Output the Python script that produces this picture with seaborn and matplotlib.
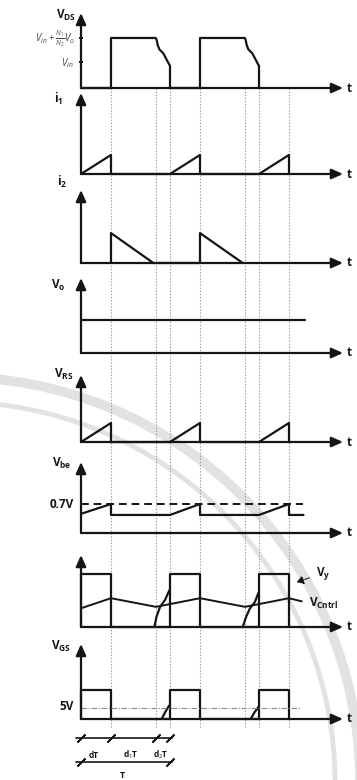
import numpy as np
import pandas as pd
import seaborn as sns
import matplotlib.pyplot as plt
from matplotlib.patches import Circle, FancyArrowPatch

sns.set_theme(style="white")
plt.rcParams['font.family'] = ['Open Sans', 'DejaVu Sans']
plt.rcParams['mathtext.fontset'] = 'custom'
plt.rcParams['mathtext.rm'] = 'Open Sans'
plt.rcParams['mathtext.it'] = 'Open Sans:italic'
plt.rcParams['mathtext.bf'] = 'Open Sans:bold'

# ---- switching intervals (fractions of the period T) ----
D, D1, D2 = 0.337, 0.506, 0.157

# ---- waveforms: time in units of T, amplitude as fraction of the y-axis height ----
vds_t = [0, D, D, 0.84, 0.85, 0.862, 0.88, 0.925, 1.0, 1.0,
         1 + D, 1 + D, 1.84, 1.85, 1.862, 1.88, 1.925, 2.0, 2.0]
vds_v = [0, 0, 0.667, 0.667, 0.64, 0.573, 0.516, 0.462, 0.293, 0,
         0, 0.667, 0.667, 0.64, 0.573, 0.516, 0.462, 0.293, 0]
vds_levels = [0.667, 0.347]

i1_t = [0, D, D, 1, 1 + D, 1 + D, 2, 2 + D, 2 + D]
i1_v = [0, 0.235, 0, 0, 0.235, 0, 0, 0.235, 0]

i2_t = [D, D, 0.813, 1 + D, 1 + D, 1.817]
i2_v = [0, 0.41, 0, 0, 0.41, 0]

vo_t = [0, 2.517]
vo_v = [0.44, 0.44]

vrs_t = [0, D, D, 1, 1 + D, 1 + D, 2, 2 + D, 2 + D]
vrs_v = [0, 0.284, 0, 0, 0.284, 0, 0, 0.284, 0]

vbe_t = [0, D, D, 1, 1 + D, 1 + D, 2, 2 + D, 2 + D, 2.5]
vbe_v = [0.27, 0.408, 0.254, 0.254, 0.408, 0.254, 0.254, 0.408, 0.254, 0.254]
vbe_ref_t = [0, 2.5]
vbe_ref_v = [0.408, 0.408]

vy_t = [0, 0, D, D, 1, 1, 1 + D, 1 + D, 2, 2, 2 + D, 2 + D]
vy_v = [0, 0.74, 0.74, 0, 0, 0.74, 0.74, 0, 0, 0.74, 0.74, 0]
vy_edge1_t = [0.824, 0.848, 0.888, 0.944, 0.993]
vy_edge1_v = [0, 0.14, 0.28, 0.375, 0.51]
vy_edge2_t = [1.817, 1.855, 1.899, 1.955, 1.992]
vy_edge2_v = [0, 0.14, 0.26, 0.35, 0.47]
vcntrl_t = [0, D, 0.843, 1 + D, 1.843, 2 + D, 2.48]
vcntrl_v = [0.26, 0.40, 0.28, 0.40, 0.28, 0.40, 0.356]

vgs_t = [0, 0, D, D, 1, 1, 1 + D, 1 + D, 2, 2, 2 + D, 2 + D]
vgs_v = [0, 0.387, 0.387, 0, 0, 0.387, 0.387, 0, 0, 0.387, 0.387, 0]
vgs_edge1_t = [0.906, 0.95, 0.975, 1.0]
vgs_edge1_v = [0, 0.10, 0.15, 0.19]
vgs_edge2_t = [1.906, 1.95, 1.975, 2.0]
vgs_edge2_v = [0, 0.09, 0.13, 0.17]
vgs_ref_t = [0, 2.46]
vgs_ref_v = [0.143, 0.143]

guide_t = [D, D + D1, 1, 1 + D, 1 + D + D1, 2, 2 + D]
dim_ticks = [0, D, D + D1, 1]
dim_labels = ['dT', r'd$_1$T', r'd$_2$T']
period_ticks = [0, 1]

# ---- layout (pixels) ----
W, H = 357, 780
X0, PX_PER_T = 81, 89
XMIN, XMAX = -X0 / PX_PER_T, (W - X0) / PX_PER_T
T_END = (343 - X0) / PX_PER_T
INK = '#151515'
GRID = '#9a9a9a'
SEAL = '#e2e2e2'

# (y of arrow tip, y of time axis) for each panel
panels = {
    'vds': (13, 88), 'i1': (93, 174), 'i2': (190, 263), 'vo': (278, 353),
    'vrs': (375, 442), 'vbe': (462, 533), 'vy': (555, 627), 'vgs': (644, 719),
}

fig = plt.figure(figsize=(W / 100, H / 100), dpi=100)
fig.patch.set_facecolor('white')

# faint seal rings behind the diagram
seal = fig.add_axes([0, 0, 1, 1])
seal.set_xlim(0, W)
seal.set_ylim(H, 0)
seal.axis('off')
seal.add_patch(Circle((-45, 782), 405, fill=False, ec=SEAL, lw=7))
seal.add_patch(Circle((-45, 782), 380, fill=False, ec=SEAL, lw=3.5))

# background layer in pixel rows: guide lines and interval bars
bg = fig.add_axes([0, 0, 1, 1])
bg.set_xlim(XMIN, XMAX)
bg.set_ylim(H, 0)
bg.axis('off')
bg.patch.set_alpha(0)
bg.vlines(guide_t, 88, 728, colors=GRID, linestyles=(0, (1.2, 1.6)), lw=0.8)


def panel(key):
    top, base = panels[key]
    ax = fig.add_axes([0, 1 - base / H, 1, (base - top) / H])
    ax.set_xlim(XMIN, XMAX)
    ax.set_ylim(0, 1)
    ax.axis('off')
    ax.patch.set_alpha(0)
    arrow = dict(arrowstyle='-|>,head_length=0.85,head_width=0.38', color=INK,
                 lw=1.6, mutation_scale=8, shrinkA=0, shrinkB=0)
    ax.annotate('', xy=(0, 1), xytext=(0, 0), arrowprops=arrow, annotation_clip=False)
    ax.annotate('', xy=(T_END, 0), xytext=(0, 0), arrowprops=arrow, annotation_clip=False)
    fig.text(347 / W, 1 - base / H, 't', fontsize=8.5, fontweight='bold',
             ha='left', va='center', color=INK)
    return ax


def trace(ax, t, v, lw=1.6, **kw):
    sns.lineplot(x=t, y=v, sort=False, estimator=None, color=INK, lw=lw, ax=ax, **kw)
    for ln in ax.lines:
        ln.set_clip_on(False)


def label(text, x, y, size=8.5, **kw):
    kw.setdefault('ha', 'right')
    fig.text(x / W, 1 - y / H, text, fontsize=size, fontweight='bold', va='center',
             color=INK, **kw)


ax = panel('vds')
trace(ax, vds_t, vds_v)
ax.hlines(vds_levels, -0.025, 0.025, colors=INK, lw=1.4)
label(r'V$_{\mathbf{DS}}$', 76, 15)
fig.text(75 / W, 1 - 39 / H, r'$V_{in}+\frac{N_1}{N_2}V_o$', fontsize=7, color='#4a4a4a',
         ha='right', va='center')
fig.text(74 / W, 1 - 63 / H, r'$V_{in}$', fontsize=7, color='#4a4a4a', ha='right', va='center')

ax = panel('i1')
trace(ax, i1_t, i1_v)
label(r'i$_{\mathbf{1}}$', 63, 99)

ax = panel('i2')
trace(ax, i2_t, i2_v)
label(r'i$_{\mathbf{2}}$', 67, 182)

ax = panel('vo')
trace(ax, vo_t, vo_v)
label(r'V$_{\mathbf{o}}$', 66, 285)

ax = panel('vrs')
trace(ax, vrs_t, vrs_v)
label(r'V$_{\mathbf{RS}}$', 73, 374)

ax = panel('vbe')
trace(ax, vbe_t, vbe_v)
sns.lineplot(x=vbe_ref_t, y=vbe_ref_v, color=INK, lw=1.4, ax=ax,
             linestyle=(0, (4, 2.5)))
label(r'V$_{\mathbf{be}}$', 71, 463)
label('0.7V', 74, 505)

ax = panel('vy')
trace(ax, vy_t, vy_v)
trace(ax, vy_edge1_t, vy_edge1_v)
trace(ax, vy_edge2_t, vy_edge2_v)
trace(ax, vcntrl_t, vcntrl_v, lw=1.4)
label(r'V$_{\mathbf{y}}$', 316, 573, ha='left')
label(r'V$_{\mathbf{Cntrl}}$', 309, 603, ha='left')
fig.add_artist(FancyArrowPatch(
    (312 / W, 1 - 577 / H), (294 / W, 1 - 583 / H), transform=fig.transFigure,
    arrowstyle='-|>,head_length=4,head_width=2.5', color=INK, lw=0.8,
    linestyle=(0, (1.5, 1))))

ax = panel('vgs')
trace(ax, vgs_t, vgs_v)
trace(ax, vgs_edge1_t, vgs_edge1_v)
trace(ax, vgs_edge2_t, vgs_edge2_v)
sns.lineplot(x=vgs_ref_t, y=vgs_ref_v, color='#8a8a8a', lw=0.8, ax=ax,
             linestyle=(0, (5, 1.5, 1, 1.5)))
label(r'V$_{\mathbf{GS}}$', 71, 646)
label('5V', 74, 707)

# interval bars under the gate drive
for y, ticks in ((738, dim_ticks), (762, period_ticks)):
    bg.plot([ticks[0] - 0.06, ticks[-1] + 0.02], [y, y], color=INK, lw=1.2)
    bg.plot(ticks, [y] * len(ticks), ls='none', marker=(2, 2, -45), ms=8,
            mew=1.3, color=INK)
for (a, b), txt in zip(zip(dim_ticks[:-1], dim_ticks[1:]), dim_labels):
    bg.text((a + b) / 2 - 0.03, 755, txt, fontsize=6, fontweight='bold',
            ha='center', va='center', color=INK)
bg.text(0.46, 775, 'T', fontsize=6.5, fontweight='bold', ha='center', va='center',
        color=INK)

fig.savefig('out.png', dpi=100, facecolor='white')
